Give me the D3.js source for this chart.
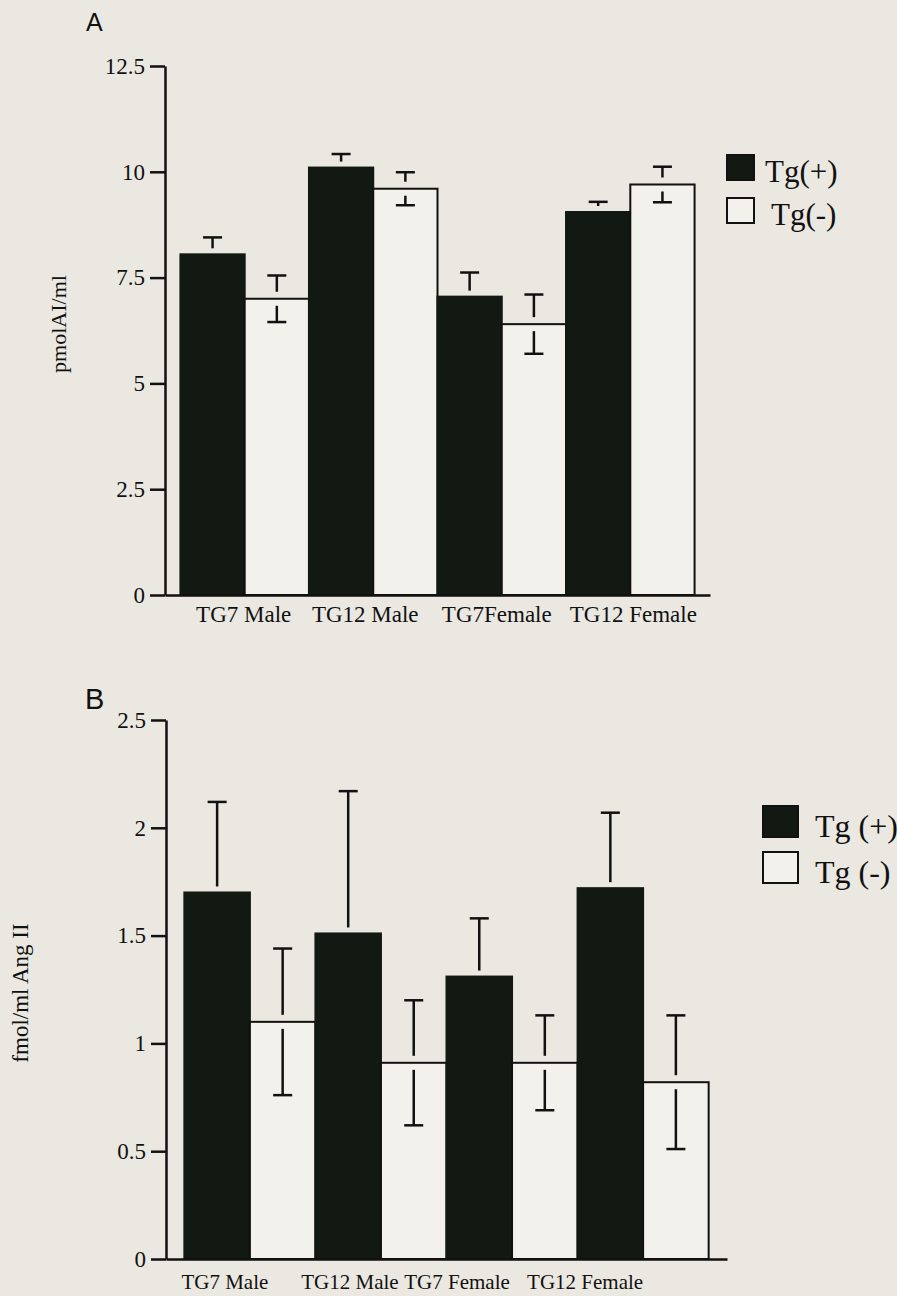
<!DOCTYPE html>
<html>
<head>
<meta charset="utf-8">
<script src="https://cdn.jsdelivr.net/npm/d3@7"></script>
<style>
  html, body { margin: 0; padding: 0; background: #eae8e1; }
  svg { display: block; }
</style>
</head>
<body>
<svg id="chart" width="897" height="1296"></svg>
<script>
// ---------- DATA ----------
const categoriesA = ["TG7 Male", "TG12 Male", "TG7Female", "TG12 Female"];
const tgPosA = [8.05, 10.1, 7.05, 9.05];
const tgPosErrA = [0.4, 0.32, 0.57, 0.24];
const tgNegA = [7.0, 9.6, 6.4, 9.7];
const tgNegErrA = [0.55, 0.39, 0.7, 0.42];
const ticksA = [0, 2.5, 5, 7.5, 10, 12.5];

const categoriesB = ["TG7 Male", "TG12 Male", "TG7 Female", "TG12 Female"];
const tgPosB = [1.7, 1.51, 1.31, 1.72];
const tgPosErrB = [0.42, 0.66, 0.27, 0.35];
const tgNegB = [1.1, 0.91, 0.91, 0.82];
const tgNegErrB = [0.34, 0.29, 0.22, 0.31];
const ticksB = [0, 0.5, 1, 1.5, 2, 2.5];

const seriesNames = ["Tg(+)", "Tg(-)"];
const seriesNamesB = ["Tg (+)", "Tg (-)"];

// ---------- STYLE ----------
const DARK = "#121812";
const OPEN = "#f2f1eb";
const INK = "#111";
const serif = "'Liberation Serif', 'Times New Roman', serif";
const sans = "'Liberation Sans', Arial, sans-serif";

const svg = d3.select("#chart");

function drawPanel(cfg) {
  const g = svg.append("g");
  const y = d3.scaleLinear().domain([0, cfg.yMax]).range([cfg.y0, cfg.yTop]);
  const x = d3.scaleBand().domain(cfg.categories).range([cfg.xLeft, cfg.xRight])
    .paddingInner(0).paddingOuter(cfg.outer);
  const xs = d3.scaleBand().domain([0, 1]).range([0, x.bandwidth()]).padding(0);

  const rows = cfg.categories.map((c, i) => ({
    cat: c,
    vals: [
      { s: 0, v: cfg.pos[i], e: cfg.posErr[i] },
      { s: 1, v: cfg.neg[i], e: cfg.negErr[i] }
    ]
  }));

  // bars
  const grp = g.selectAll("g.grp").data(rows).join("g")
    .attr("transform", d => `translate(${x(d.cat)},0)`);
  grp.selectAll("rect").data(d => d.vals).join("rect")
    .attr("x", d => xs(d.s))
    .attr("width", xs.bandwidth())
    .attr("y", d => y(d.v))
    .attr("height", d => y(0) - y(d.v))
    .attr("fill", d => d.s === 0 ? DARK : OPEN)
    .attr("stroke", d => d.s === 0 ? DARK : INK)
    .attr("stroke-width", 2);

  // error bars
  const capW = 19;
  grp.each(function (d) {
    const gg = d3.select(this);
    d.vals.forEach(p => {
      const cx = xs(p.s) + xs.bandwidth() / 2;
      const top = y(p.v + p.e), mean = y(p.v), bot = y(p.v - p.e);
      const gap = p.s === 0 ? 6 : 7;
      gg.append("line").attr("x1", cx - capW / 2).attr("x2", cx + capW / 2)
        .attr("y1", top).attr("y2", top).attr("stroke", INK).attr("stroke-width", 2.5);
      if (mean - gap > top) {
        gg.append("line").attr("x1", cx).attr("x2", cx).attr("y1", top).attr("y2", mean - gap)
          .attr("stroke", INK).attr("stroke-width", 2.5);
      }
      if (p.s === 1) {
        gg.append("line").attr("x1", cx - capW / 2).attr("x2", cx + capW / 2)
          .attr("y1", bot).attr("y2", bot).attr("stroke", INK).attr("stroke-width", 2.5);
        if (bot > mean + gap) {
          gg.append("line").attr("x1", cx).attr("x2", cx).attr("y1", mean + gap).attr("y2", bot)
            .attr("stroke", INK).attr("stroke-width", 2.5);
        }
      }
    });
  });

  // y axis
  const yAxis = d3.axisLeft(y).tickValues(cfg.ticks).tickFormat(d => String(d))
    .tickSize(15).tickSizeOuter(0).tickPadding(5);
  const ya = g.append("g").attr("transform", `translate(${cfg.xLeft},0)`).call(yAxis);
  ya.attr("font-family", null);
  ya.select(".domain").attr("stroke", INK).attr("stroke-width", 2.5);
  ya.selectAll(".tick line").attr("stroke", INK).attr("stroke-width", 2.5);
  ya.selectAll(".tick text").attr("fill", INK).style("font-family", serif)
    .style("font-size", cfg.tickFont + "px");

  // x axis
  const xAxis = d3.axisBottom(x).tickSize(0).tickSizeOuter(0).tickPadding(cfg.xPad);
  const xa = g.append("g").attr("transform", `translate(0,${cfg.y0})`).call(xAxis);
  xa.attr("font-family", null);
  xa.select(".domain").attr("stroke", INK).attr("stroke-width", 2.5);
  xa.selectAll(".tick text").attr("fill", INK).style("font-family", serif)
    .style("font-size", cfg.xFont + "px")
    .attr("dx", (d, i) => cfg.labelShift[i]);

  // y label
  g.append("text")
    .attr("transform", `translate(${cfg.yLabelX},${cfg.yLabelY}) rotate(-90)`)
    .attr("text-anchor", "middle")
    .style("font-family", serif).style("font-size", cfg.yLabelFont + "px")
    .attr("fill", INK).text(cfg.yLabel);

  // panel letter
  g.append("text").attr("x", cfg.letterX).attr("y", cfg.letterY)
    .style("font-family", sans).style("font-size", cfg.letterFont + "px")
    .attr("fill", INK).text(cfg.letter);

  // legend
  const lg = g.append("g");
  cfg.names.forEach((n, i) => {
    lg.append("rect").attr("x", cfg.legX).attr("y", cfg.legY + i * cfg.legStep)
      .attr("width", cfg.legW).attr("height", cfg.legH)
      .attr("fill", i === 0 ? DARK : OPEN).attr("stroke", INK).attr("stroke-width", 2);
    lg.append("text").attr("x", cfg.legTextX + (i === 1 ? cfg.legTextShift2 : 0))
      .attr("y", cfg.legY + i * cfg.legStep + cfg.legBase)
      .style("font-family", serif).style("font-size", cfg.legFont + "px")
      .attr("fill", INK).text(n);
  });
}

drawPanel({
  categories: categoriesA, pos: tgPosA, posErr: tgPosErrA, neg: tgNegA, negErr: tgNegErrA,
  ticks: ticksA, yMax: 12.5, y0: 595, yTop: 66, xLeft: 165, xRight: 710, outer: 0.12,
  tickFont: 23, xFont: 23, xPad: 11, labelShift: [-1, -8, -5, 3],
  yLabel: "pmolAI/ml", yLabelX: 66, yLabelY: 324, yLabelFont: 22,
  letter: "A", letterX: 86, letterY: 31, letterFont: 25,
  names: seriesNames, legX: 727, legY: 155, legStep: 43, legW: 27, legH: 25,
  legTextX: 765, legTextShift2: 6, legBase: 27, legFont: 31
});

drawPanel({
  categories: categoriesB, pos: tgPosB, posErr: tgPosErrB, neg: tgNegB, negErr: tgNegErrB,
  ticks: ticksB, yMax: 2.5, y0: 1259, yTop: 720, xLeft: 166, xRight: 727, outer: 0.14,
  tickFont: 23, xFont: 21, xPad: 15, labelShift: [-25, -31, -55, -58],
  yLabel: "fmol/ml Ang II", yLabelX: 28, yLabelY: 993, yLabelFont: 23,
  letter: "B", letterX: 85, letterY: 709, letterFont: 29,
  names: seriesNamesB, legX: 763, legY: 806, legStep: 46, legW: 35, legH: 31,
  legTextX: 815, legTextShift2: 0, legBase: 31, legFont: 32
});
</script>
</body>
</html>
